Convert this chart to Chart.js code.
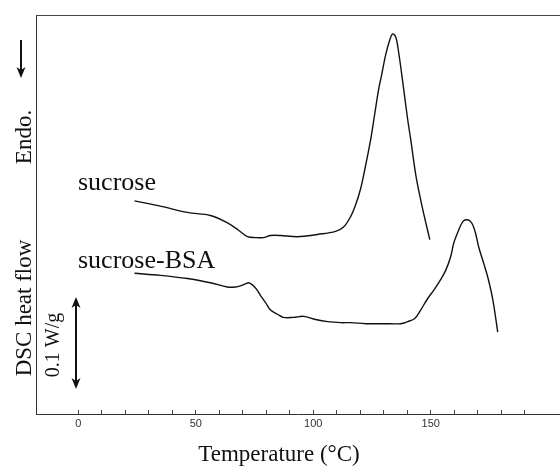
<!DOCTYPE html>
<html>
<head>
<meta charset="utf-8">
<script src="https://cdn.jsdelivr.net/npm/chart.js@4"></script>
<style>
  html, body { margin: 0; padding: 0; background: #fff; overflow: hidden; }
  #wrap { width: 560px; height: 466px; }
</style>
</head>
<body>
<div id="wrap"><canvas id="chart" width="560" height="466"></canvas></div>
<script>
// temperature (°C) and heat flow (W/g, arbitrary offset)
const sucroseT = [23.9, 34.9, 46.4, 56.2, 63.5, 68.2, 72.0, 75.4, 78.8, 81.8, 86.1, 91.2, 94.6, 101.8, 109.5, 112.9,
  115.9, 118.0, 120.2, 122.3, 124.4, 126.1, 127.8, 129.1, 130.8, 132.5, 133.8, 135.1, 136.3, 138.5, 140.2, 141.5,
  143.6, 145.7, 147.8, 149.6];
const sucroseHF = [0.203, 0.198, 0.192, 0.189, 0.182, 0.175, 0.169, 0.168, 0.168, 0.170, 0.170, 0.169, 0.169, 0.171, 0.174, 0.178,
  0.188, 0.199, 0.215, 0.237, 0.261, 0.285, 0.309, 0.323, 0.342, 0.356, 0.362, 0.359, 0.345, 0.309, 0.280, 0.261,
  0.228, 0.204, 0.183, 0.166];

const bsaT = [23.9, 34.9, 46.4, 56.2, 63.5, 66.9, 69.0, 71.2, 72.4, 74.1, 75.8, 77.5, 79.7, 81.8, 84.8, 87.3,
  91.6, 95.9, 101.0, 106.1, 111.7, 115.9, 122.3, 129.9, 137.2, 140.2, 143.2, 145.7, 148.7, 151.3, 154.2, 156.4,
  158.5, 159.8, 161.5, 162.8, 164.0, 165.3, 166.6, 167.9, 169.2, 170.4, 172.6, 174.3, 176.4, 178.5];
const bsaHF = [0.134, 0.132, 0.129, 0.125, 0.121, 0.121, 0.122, 0.124, 0.125, 0.123, 0.119, 0.113, 0.106, 0.099, 0.095, 0.092,
  0.092, 0.093, 0.090, 0.088, 0.087, 0.087, 0.086, 0.086, 0.086, 0.088, 0.091, 0.099, 0.110, 0.118, 0.128, 0.137,
  0.150, 0.163, 0.173, 0.180, 0.184, 0.185, 0.184, 0.180, 0.171, 0.159, 0.143, 0.130, 0.109, 0.078];

const xLabels = [0, 50, 100, 150];
const seriesNames = ["sucrose", "sucrose-BSA"];

const SERIF = "'Liberation Serif', 'Times New Roman', serif";

function toPoints(xs, ys) {
  return xs.map((x, i) => ({ x: x, y: ys[i] }));
}

function arrowHead(ctx, x, y, dir) {
  // dir = 1 points down, -1 points up
  ctx.beginPath();
  ctx.moveTo(x, y);
  ctx.lineTo(x - 4.5, y - 11 * dir);
  ctx.lineTo(x, y - 8 * dir);
  ctx.lineTo(x + 4.5, y - 11 * dir);
  ctx.closePath();
  ctx.fill();
}

function vText(ctx, txt, x, y, size) {
  ctx.save();
  ctx.translate(x, y);
  ctx.rotate(-Math.PI / 2);
  ctx.font = size + "px " + SERIF;
  ctx.textAlign = "center";
  ctx.textBaseline = "alphabetic";
  ctx.fillText(txt, 0, 0);
  ctx.restore();
}

const decor = {
  id: "decor",
  afterDraw(chart) {
    const ctx = chart.ctx;
    const area = chart.chartArea;
    ctx.save();
    ctx.strokeStyle = "#444";
    ctx.fillStyle = "#111";
    ctx.lineWidth = 1;

    // top frame line
    ctx.beginPath();
    ctx.moveTo(area.left, area.top + 0.5);
    ctx.lineTo(area.right, area.top + 0.5);
    ctx.stroke();

    // Endo. arrow
    ctx.strokeStyle = "#111";
    ctx.lineWidth = 2;
    ctx.beginPath();
    ctx.moveTo(21, 40);
    ctx.lineTo(21, 70);
    ctx.stroke();
    arrowHead(ctx, 21, 78, 1);

    // 0.1 W/g scale bar
    ctx.beginPath();
    ctx.moveTo(76, 305);
    ctx.lineTo(76, 381);
    ctx.stroke();
    arrowHead(ctx, 76, 297, -1);
    arrowHead(ctx, 76, 389, 1);

    ctx.fillStyle = "#111";
    vText(ctx, "Endo.", 31, 137, 23);
    vText(ctx, "DSC heat flow", 31, 308, 23);
    vText(ctx, "0.1 W/g", 59, 345, 20);

    ctx.font = "26px " + SERIF;
    ctx.textAlign = "left";
    ctx.textBaseline = "alphabetic";
    ctx.fillText(seriesNames[0], 78, 190);
    ctx.fillText(seriesNames[1], 78, 268);

    ctx.font = "23px " + SERIF;
    ctx.textAlign = "center";
    ctx.fillText("Temperature (\u00B0C)", 279, 461);
    ctx.restore();
  }
};

new Chart(document.getElementById("chart"), {
  type: "scatter",
  data: {
    datasets: [
      {
        label: seriesNames[0],
        data: toPoints(sucroseT, sucroseHF),
        showLine: true,
        borderColor: "#111",
        borderWidth: 1.4,
        pointRadius: 0,
        tension: 0.35
      },
      {
        label: seriesNames[1],
        data: toPoints(bsaT, bsaHF),
        showLine: true,
        borderColor: "#111",
        borderWidth: 1.4,
        pointRadius: 0,
        tension: 0.35
      }
    ]
  },
  options: {
    responsive: false,
    animation: false,
    layout: { padding: { left: 36, top: 15, right: 0, bottom: 0 } },
    plugins: {
      legend: { display: false },
      tooltip: { enabled: false }
    },
    scales: {
      x: {
        type: "linear",
        min: -18,
        max: 205,
        afterFit: s => { s.height = 52; },
        afterBuildTicks: s => {
          s.ticks = s.ticks.filter(t => t.value % 10 === 0);
        },
        ticks: {
          stepSize: 10,
          autoSkip: false,
          maxRotation: 0,
          padding: 7,
          color: "#333",
          font: { family: "'Liberation Sans', Arial, sans-serif", size: 11 },
          callback: v => (xLabels.includes(v) ? String(v) : "")
        },
        grid: {
          drawOnChartArea: false,
          tickLength: -4,
          color: "#444"
        },
        border: { display: true, color: "#333", width: 1 }
      },
      y: {
        type: "linear",
        min: 0,
        max: 0.38,
        afterFit: s => { s.width = 0; },
        ticks: { display: false },
        grid: { display: false },
        border: { display: true, color: "#333", width: 1 }
      }
    }
  },
  plugins: [decor]
});
</script>
</body>
</html>
